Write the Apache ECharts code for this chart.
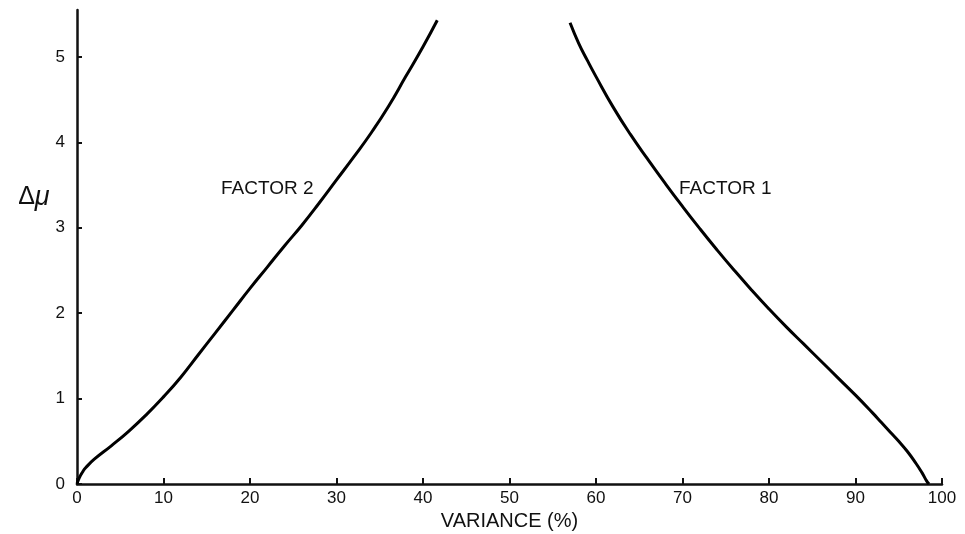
<!DOCTYPE html>
<html>
<head>
<meta charset="utf-8">
<script src="https://cdn.jsdelivr.net/npm/echarts@6/dist/echarts.min.js"></script>
<style>html,body{margin:0;padding:0;background:#fff;}#c{width:965px;height:534px;}</style>
</head>
<body>
<div id="c"></div>
<script>
// Factor 2 curve: variance (%) and delta mu
var factor2X = [0, 0.25, 0.7, 1, 2, 4, 6, 8, 10, 12, 14, 16, 18, 20, 22, 24, 26, 28, 30, 32, 34, 36, 38, 40, 41.65];
var factor2Y = [0, 0.07, 0.15, 0.19, 0.29, 0.45, 0.62, 0.81, 1.02, 1.25, 1.51, 1.77, 2.03, 2.29, 2.54, 2.79, 3.03, 3.29, 3.56, 3.83, 4.11, 4.42, 4.77, 5.12, 5.43];
// Factor 1 curve
var factor1X = [57, 58, 59, 60, 62, 64, 66, 68, 70, 72, 74, 76, 78, 80, 82, 84, 86, 88, 90, 92, 93, 94, 95, 96, 97, 97.7, 98.2, 98.5];
var factor1Y = [5.40, 5.16, 4.96, 4.77, 4.41, 4.09, 3.80, 3.52, 3.25, 2.99, 2.74, 2.50, 2.27, 2.05, 1.84, 1.64, 1.44, 1.24, 1.04, 0.83, 0.72, 0.61, 0.50, 0.38, 0.24, 0.13, 0.04, 0.0];
var xTicks = [0, 10, 20, 30, 40, 50, 60, 70, 80, 90, 100];
var yTicks = [0, 1, 2, 3, 4, 5];
var seriesNames = ['FACTOR 2', 'FACTOR 1'];

function pairs(xs, ys) { return xs.map(function (x, i) { return [x, ys[i]]; }); }

var chart = echarts.init(document.getElementById('c'), null, { renderer: 'canvas' });
var font = '"Liberation Sans", Arial, sans-serif';
var option = {
  backgroundColor: '#ffffff',
  animation: false,
  grid: { left: 77, right: 23, top: 10, bottom: 50, containLabel: false, outerBoundsMode: 'none' },
  xAxis: {
    type: 'value', min: 0, max: 100, interval: 10,
    name: 'VARIANCE (%)', nameLocation: 'middle', nameGap: 26,
    nameTextStyle: { fontFamily: font, fontSize: 20, color: '#111', letterSpacing: 1 },
    axisLine: { show: true, lineStyle: { color: '#111', width: 2.5 } },
    axisTick: { show: true, inside: true, length: 6, lineStyle: { color: '#111', width: 2 } },
    axisLabel: { fontFamily: font, fontSize: 17, color: '#111', margin: 6 },
    splitLine: { show: false }
  },
  yAxis: {
    type: 'value', min: 0, max: 5.55,
    name: 'Δ{i|μ}', nameLocation: 'middle', nameGap: 24, nameRotate: 0,
    nameTextStyle: {
      fontFamily: font, fontSize: 25, color: '#111', padding: [0, 0, 100, 0],
      rich: { i: { fontFamily: font, fontSize: 27, fontStyle: 'italic', color: '#111' } }
    },
    axisLine: { show: true, lineStyle: { color: '#111', width: 2.5 } },
    axisTick: { show: true, inside: true, length: 5, lineStyle: { color: '#111', width: 2 }, customValues: yTicks },
    axisLabel: { fontFamily: font, fontSize: 17, color: '#111', margin: 12, customValues: yTicks },
    splitLine: { show: false }
  },
  series: [
    {
      name: seriesNames[0], type: 'line', smooth: 0.5, symbol: 'none',
      lineStyle: { color: '#000', width: 3 },
      data: pairs(factor2X, factor2Y)
    },
    {
      name: seriesNames[1], type: 'line', smooth: 0.5, symbol: 'none',
      lineStyle: { color: '#000', width: 3 },
      data: pairs(factor1X, factor1Y)
    }
  ],
  graphic: [
    { type: 'text', left: 221, top: 179, style: { text: seriesNames[0], fontFamily: font, fontSize: 19, fill: '#111', letterSpacing: 1 } },
    { type: 'text', left: 679, top: 179, style: { text: seriesNames[1], fontFamily: font, fontSize: 19, fill: '#111', letterSpacing: 1 } }
  ]
};
chart.setOption(option);
</script>
</body>
</html>
